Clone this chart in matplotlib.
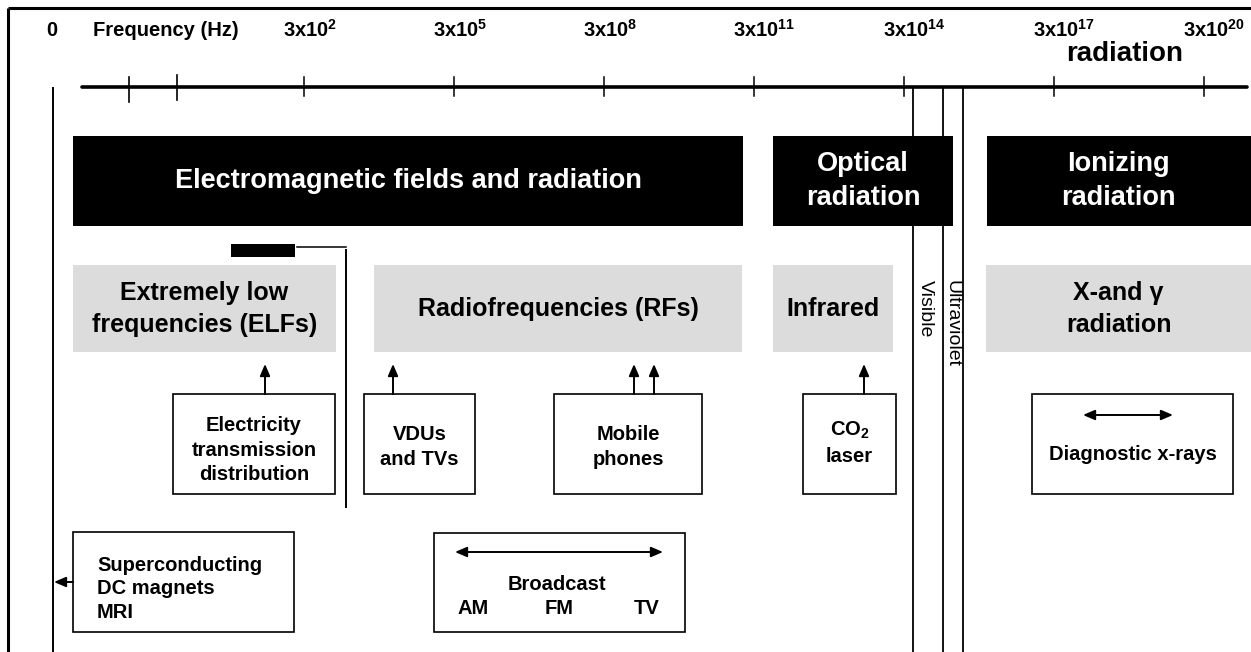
import matplotlib
matplotlib.use("Agg")
import matplotlib.pyplot as plt
from matplotlib.patches import Rectangle

plt.rcParams['font.family'] = ['Liberation Sans', 'DejaVu Sans']
plt.rcParams['mathtext.fontset'] = 'custom'
plt.rcParams['mathtext.rm'] = 'Liberation Sans:bold'
plt.rcParams['mathtext.it'] = 'Liberation Sans:bold'
plt.rcParams['mathtext.bf'] = 'Liberation Sans:bold'
plt.rcParams['mathtext.default'] = 'rm'

# ---------------- data ----------------
tick_exponents = [2, 5, 8, 11, 14, 17, 20]
tick_labels = [f"3x10$^{{{e}}}$" for e in tick_exponents]
axis_title = "Frequency (Hz)"
zero_label = "0"

band_labels = ["Electromagnetic fields and radiation", "Optical\nradiation", "Ionizing\nradiation"]
sub_labels = ["Extremely low\nfrequencies (ELFs)", "Radiofrequencies (RFs)", "Infrared", "X-and \u03b3\nradiation"]
spectrum_lines = ["Visible", "Ultraviolet"]
source_labels = ["Electricity\ntransmission\ndistribution", "VDUs\nand TVs", "Mobile\nphones",
                 "CO$_2$\nlaser", "Diagnostic x-rays"]
mri_label = "Superconducting\nDC magnets\nMRI"
broadcast_label = "Broadcast"
broadcast_bands = ["AM", "FM", "TV"]
corner_word = "radiation"

# ---------------- layout (pixel space) ----------------
W, H = 1251, 652
fig = plt.figure(figsize=(W / 100, H / 100), dpi=100)
ax = fig.add_axes([0, 0, 1, 1])
ax.set_xlim(0, W)
ax.set_ylim(H, 0)
ax.axis('off')

def tick_x(e):
    return 204 + 50 * e

GREY = '#dcdcdc'
BOLD = dict(fontweight='bold', color='black')

# frame
ax.plot([8, W], [8, 8], color='black', lw=2.2, solid_capstyle='butt')
ax.plot([8, 8], [8, H], color='black', lw=2.2, solid_capstyle='butt')

# frequency axis
AXY = 87
ax.plot([82, 1247], [AXY, AXY], color='black', lw=2.6, solid_capstyle='round')
for x0, y0, y1 in [(129, 77, 102), (177, 75, 100)]:
    ax.plot([x0, x0], [y0, y1], color='black', lw=1.2)
for e, lab in zip(tick_exponents, tick_labels):
    x = tick_x(e)
    ax.plot([x, x], [77, 96], color='black', lw=1.1)
    ax.text(x - 21, 30, lab, ha='left', va='center', fontsize=14.5, **BOLD)
ax.text(52, 30, zero_label, ha='center', va='center', fontsize=14.5, **BOLD)
ax.text(166, 30, axis_title, ha='center', va='center', fontsize=14.5, **BOLD)
ax.text(1125, 61, corner_word, ha='center', va='baseline', fontsize=20, **BOLD)

# left vertical line (0 Hz)
ax.plot([53, 53], [88, H], color='black', lw=1.4)

# spectrum lines
for x in [913, 943, 963]:
    ax.plot([x, x], [AXY, H], color='black', lw=1.3)
ax.text(925, 280, spectrum_lines[0], rotation=-90, ha='center', va='top', fontsize=14, color='black')
ax.text(952, 280, spectrum_lines[1], rotation=-90, ha='center', va='top', fontsize=14, color='black')

# black bands
black_boxes = [(73, 743), (773, 953), (987, W + 5)]
for (x0, x1), lab in zip(black_boxes, band_labels):
    ax.add_patch(Rectangle((x0, 136), x1 - x0, 90, facecolor='black', edgecolor='none', zorder=2))
    xc = (x0 + min(x1, 1249)) / 2
    ax.text(xc, 181, lab, ha='center', va='center', fontsize=19.5, color='white',
            fontweight='bold', linespacing=1.36, zorder=3)

# grey bands
grey_boxes = [(73, 336), (374, 742), (773, 893), (986, W + 5)]
for (x0, x1), lab in zip(grey_boxes, sub_labels):
    ax.add_patch(Rectangle((x0, 265), x1 - x0, 87, facecolor=GREY, edgecolor='none', zorder=2))
    xc = (x0 + min(x1, 1251)) / 2
    ax.text(xc, 309, lab, ha='center', va='center', fontsize=18, linespacing=1.38, zorder=3, **BOLD)

# ELF marker bar
ax.add_patch(Rectangle((231, 244), 64, 13, facecolor='black', edgecolor='none'))
ax.plot([297, 346], [247, 247], color='black', lw=1.1)
ax.plot([346, 346], [250, 507], color='black', lw=1.4)

# source boxes
src_boxes = [(173, 335), (364, 475), (554, 702), (803, 896), (1032, 1233)]
src_text_y = [450, 447, 447, 443, 455]
for (x0, x1), lab, ty in zip(src_boxes, source_labels, src_text_y):
    ax.add_patch(Rectangle((x0, 394), x1 - x0, 100, facecolor='white', edgecolor='black', lw=1.2, zorder=2))
    ax.text((x0 + x1) / 2, ty, lab, ha='center', va='center', fontsize=14.5, linespacing=1.38,
            zorder=3, **BOLD)

ARROW = dict(arrowstyle='-|>,head_length=0.7,head_width=0.3', color='black', lw=1.4,
             shrinkA=0, shrinkB=0)
DARROW = dict(arrowstyle='<|-|>,head_length=0.7,head_width=0.3', color='black', lw=1.4,
              shrinkA=0, shrinkB=0)
for x in [265, 393, 634, 654, 864]:
    ax.annotate('', xy=(x, 364), xytext=(x, 394), arrowprops=ARROW, zorder=3)
ax.annotate('', xy=(1083, 415), xytext=(1173, 415), arrowprops=DARROW, zorder=3)

# MRI box
ax.add_patch(Rectangle((73, 532), 221, 100, facecolor='white', edgecolor='black', lw=1.2, zorder=2))
ax.text(97, 589, mri_label, ha='left', va='center', fontsize=14.5, linespacing=1.3, zorder=3, **BOLD)
ax.annotate('', xy=(54, 582), xytext=(73, 582), arrowprops=ARROW, zorder=3)

# Broadcast box
ax.add_patch(Rectangle((434, 533), 251, 99, facecolor='white', edgecolor='black', lw=1.2, zorder=2))
ax.annotate('', xy=(455, 552), xytext=(663, 552), arrowprops=DARROW, zorder=3)
ax.text(557, 584, broadcast_label, ha='center', va='center', fontsize=14.5, zorder=3, **BOLD)
for x, lab in zip([473, 559, 647], broadcast_bands):
    ax.text(x, 609, lab, ha='center', va='center', fontsize=14.5, zorder=3, **BOLD)

fig.savefig('out.png', dpi=100)
